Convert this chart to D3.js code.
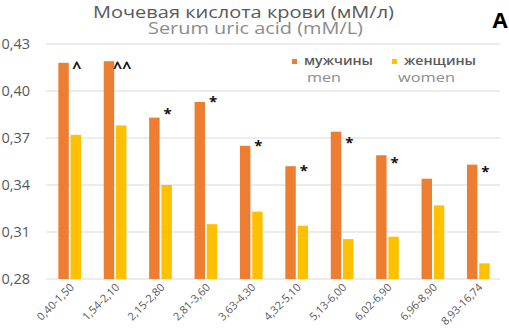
<!DOCTYPE html>
<html><head><meta charset="utf-8">
<script src="https://cdn.jsdelivr.net/npm/d3@7"></script>
<style>
html,body{margin:0;padding:0;background:#fff;}
svg{display:block;font-family:"Open Sans",sans-serif;}
</style></head>
<body><svg id="c" width="509" height="332"></svg>
<script>
const categories = ["0,40-1,50","1,54-2,10","2,15-2,80","2,81-3,60","3,63-4,30","4,32-5,10","5,13-6,00","6,02-6,90","6,96-8,90","8,93-16,74"];
const men   = [0.418,0.419,0.383,0.393,0.365,0.352,0.374,0.359,0.344,0.353];
const women = [0.372,0.378,0.340,0.315,0.323,0.314,0.3055,0.307,0.327,0.290];
const marks = ["^","^^","*","*","*","*","*","*","","*"];
const markLevel = [0.421,0.421,0.389,0.397,0.369,0.353,0.371,0.358,null,0.352];
const yTicks = [0.28,0.31,0.34,0.37,0.40,0.43];
const seriesNames = [["мужчины","men"],["женщины","women"]];
const colors = ["#ED7D31","#FFC000"];

const svg = d3.select("#c");
const y = d3.scaleLinear().domain([0.28,0.43]).range([279,44]);
const x0 = d3.scaleBand().domain(categories).range([47,501]).paddingInner(0.5).paddingOuter(0.25);
const x1 = d3.scaleBand().domain([0,1]).range([0,x0.bandwidth()]).paddingInner(0.15);
const fmt = d => d.toFixed(2).replace(".",",");

// grid
svg.append("g").selectAll("line").data(yTicks).join("line")
  .attr("x1",46).attr("x2",500).attr("y1",d=>y(d)).attr("y2",d=>y(d))
  .attr("stroke","#d9d9d9").attr("stroke-width",1);
// y labels
svg.append("g").selectAll("text").data(yTicks).join("text")
  .attr("x",30).attr("y",d=>y(d)).attr("dy","0.35em").attr("text-anchor","end")
  .attr("font-size",14.5).attr("fill","#595959").text(fmt);

// bars
const g = svg.append("g").selectAll("g").data(categories).join("g")
  .attr("transform",d=>`translate(${x0(d)},0)`);
g.append("rect").attr("x",x1(0)).attr("width",x1.bandwidth())
  .attr("y",(d,i)=>y(men[i])).attr("height",(d,i)=>y(0.28)-y(men[i])).attr("fill",colors[0]);
g.append("rect").attr("x",x1(1)).attr("width",x1.bandwidth())
  .attr("y",(d,i)=>y(women[i])).attr("height",(d,i)=>y(0.28)-y(women[i])).attr("fill",colors[1]);
// annotations
g.append("text").attr("x",x1(1)+x1.bandwidth()/2+1)
  .attr("y",(d,i)=>markLevel[i]==null?0:y(markLevel[i]))
  .attr("dy",(d,i)=>marks[i]==="*"?"0.75em":"0.95em")
  .attr("text-anchor","middle").attr("font-size",(d,i)=>marks[i]==="*"?15:16).attr("font-weight","bold")
  .attr("fill","#111").text((d,i)=>marks[i]);

// x labels
svg.append("g").selectAll("text").data(categories).join("text")
  .attr("transform",d=>`translate(${x0(d)+x0.bandwidth()/2+5},288) rotate(-45)`)
  .attr("text-anchor","end").attr("font-size",11).attr("fill","#595959").text(d=>d);

// titles
svg.append("text").attr("x",93).attr("y",18).attr("textLength",301).attr("lengthAdjust","spacingAndGlyphs")
  .attr("font-size",16.5).attr("fill","#595959").text("Мочевая кислота крови (мМ/л)");
svg.append("text").attr("x",148).attr("y",34).attr("textLength",215).attr("lengthAdjust","spacingAndGlyphs")
  .attr("font-size",15.5).attr("fill","#8c8c8c").text("Serum uric acid  (mM/L)");
svg.append("text").attr("x",500).attr("y",28).attr("text-anchor","middle")
  .attr("font-size",22).attr("font-weight","bold").attr("fill","#000").text("A");

// legend
const legX = [292,392];
const legW = [[69,34],[72,57]];
seriesNames.forEach((s,i)=>{
  svg.append("rect").attr("x",legX[i]).attr("y",59).attr("width",5).attr("height",5).attr("fill",colors[i]);
  svg.append("text").attr("x",legX[i]+12).attr("y",64.5).attr("font-size",12).attr("font-weight","600")
    .attr("textLength",legW[i][0]).attr("lengthAdjust","spacingAndGlyphs")
    .attr("fill","#595959").text(s[0]);
  svg.append("text").attr("x",legX[i]+(i===0?15:6)).attr("y",82).attr("font-size",13)
    .attr("textLength",legW[i][1]).attr("lengthAdjust","spacingAndGlyphs")
    .attr("fill","#8c8c8c").text(s[1]);
});
</script></body></html>
